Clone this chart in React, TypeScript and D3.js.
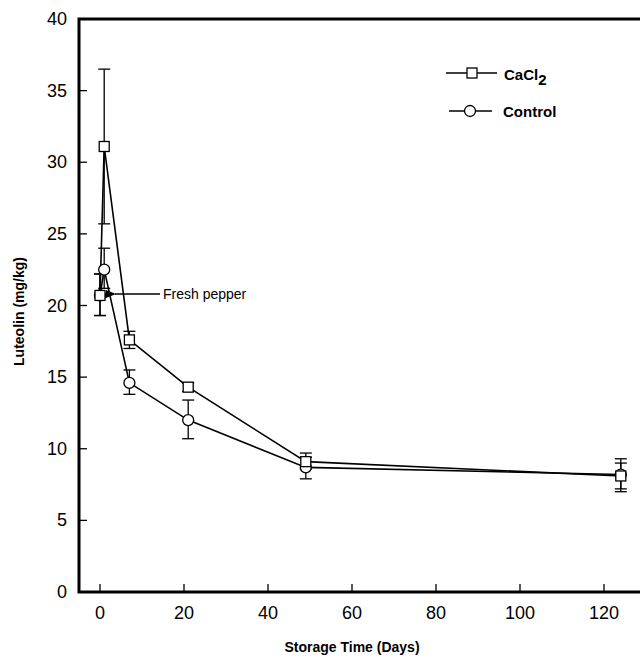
import React from "react";
import * as d3 from "d3";

const days = [0, 1, 7, 21, 49, 124];
const cacl2 = [20.7, 31.1, 17.6, 14.3, 9.1, 8.1];
const cacl2Lo = [19.3, 25.7, 17.0, 14.0, 8.6, 7.0];
const cacl2Hi = [22.2, 36.5, 18.2, 14.6, 9.7, 9.3];
const control = [20.7, 22.5, 14.6, 12.0, 8.7, 8.2];
const controlLo = [19.3, 21.2, 13.8, 10.7, 7.9, 7.2];
const controlHi = [22.2, 24.0, 15.5, 13.4, 9.4, 9.0];
const xTicks = [0, 20, 40, 60, 80, 100, 120];
const yTicks = [0, 5, 10, 15, 20, 25, 30, 35, 40];

const W = 640;
const H = 663;
const L = 79, R = 642, T = 19, B = 592;

export default function App() {
  const x = d3.scaleLinear().domain([0, 120]).range([100, 604]);
  const y = d3.scaleLinear().domain([0, 40]).range([B, T]);
  const line = d3
    .line<number>()
    .x((_, i) => x(days[i]))
    .y((d) => y(d));
  const font = "'Liberation Sans', Arial, sans-serif";
  const cap = 6;

  const errBars = (lo: number[], hi: number[], key: string) =>
    days.map((d, i) => (
      <g key={key + i} stroke="#000" strokeWidth={1.3}>
        <line x1={x(d)} x2={x(d)} y1={y(lo[i])} y2={y(hi[i])} />
        <line x1={x(d) - cap} x2={x(d) + cap} y1={y(lo[i])} y2={y(lo[i])} />
        <line x1={x(d) - cap} x2={x(d) + cap} y1={y(hi[i])} y2={y(hi[i])} />
      </g>
    ));

  return (
    <svg
      width={W}
      height={H}
      style={{ position: "absolute", left: 0, top: 0, background: "#fff" }}
      fontFamily={font}
    >
      <defs>
        <marker id="arr" markerWidth="10" markerHeight="8" refX="1" refY="4" orient="auto" markerUnits="userSpaceOnUse">
          <path d="M10,0 L0,4 L10,8 Z" fill="#000" />
        </marker>
      </defs>
      {/* frame */}
      <path d={`M${R},${T} L${L},${T} L${L},${B} L${R},${B}`} fill="none" stroke="#000" strokeWidth={3} />
      {/* y ticks */}
      {yTicks.map((t) => (
        <g key={"y" + t}>
          <line x1={L} x2={L + 8} y1={y(t)} y2={y(t)} stroke="#000" strokeWidth={1.3} />
          <text x={67} y={y(t) + 6} textAnchor="end" fontSize={18}>
            {t}
          </text>
        </g>
      ))}
      {/* x ticks */}
      {xTicks.map((t) => (
        <g key={"x" + t}>
          <line x1={x(t)} x2={x(t)} y1={B} y2={B - 8} stroke="#000" strokeWidth={1.3} />
          <text x={x(t)} y={619} textAnchor="middle" fontSize={18}>
            {t}
          </text>
        </g>
      ))}
      <text x={352} y={652} textAnchor="middle" fontSize={14} fontWeight="bold">
        Storage Time (Days)
      </text>
      <text
        transform={`translate(24,${(T + B) / 2 + 6}) rotate(-90)`}
        textAnchor="middle"
        fontSize={14}
        fontWeight="bold"
      >
        Luteolin (mg/kg)
      </text>
      {/* error bars */}
      {errBars(cacl2Lo, cacl2Hi, "c")}
      {errBars(controlLo, controlHi, "k")}
      {/* lines */}
      <path d={line(cacl2) || ""} fill="none" stroke="#000" strokeWidth={1.6} />
      <path d={line(control) || ""} fill="none" stroke="#000" strokeWidth={1.6} />
      {/* markers */}
      {control.map((v, i) => (
        <circle key={"cm" + i} cx={x(days[i])} cy={y(v)} r={5.5} fill="#fff" stroke="#000" strokeWidth={1.3} />
      ))}
      {cacl2.map((v, i) => (
        <rect key={"sm" + i} x={x(days[i]) - 5} y={y(v) - 5} width={10} height={10} fill="#fff" stroke="#000" strokeWidth={1.3} />
      ))}
      {/* annotation */}
      <line x1={160} x2={115} y1={294} y2={294} stroke="#000" strokeWidth={1.5} markerEnd="url(#arr)" />
      <text x={163} y={299} fontSize={14}>
        Fresh pepper
      </text>
      {/* legend */}
      <line x1={446} x2={497} y1={73} y2={73} stroke="#000" strokeWidth={1.5} />
      <rect x={467} y={68} width={10} height={10} fill="#fff" stroke="#000" strokeWidth={1.3} />
      <text x={504} y={80} fontSize={15} fontWeight="bold">
        CaCl<tspan dy={5}>2</tspan>
      </text>
      <line x1={449} x2={492} y1={111} y2={111} stroke="#000" strokeWidth={1.5} />
      <circle cx={470} cy={111} r={5.5} fill="#fff" stroke="#000" strokeWidth={1.3} />
      <text x={503} y={117} fontSize={15} fontWeight="bold">
        Control
      </text>
    </svg>
  );
}
